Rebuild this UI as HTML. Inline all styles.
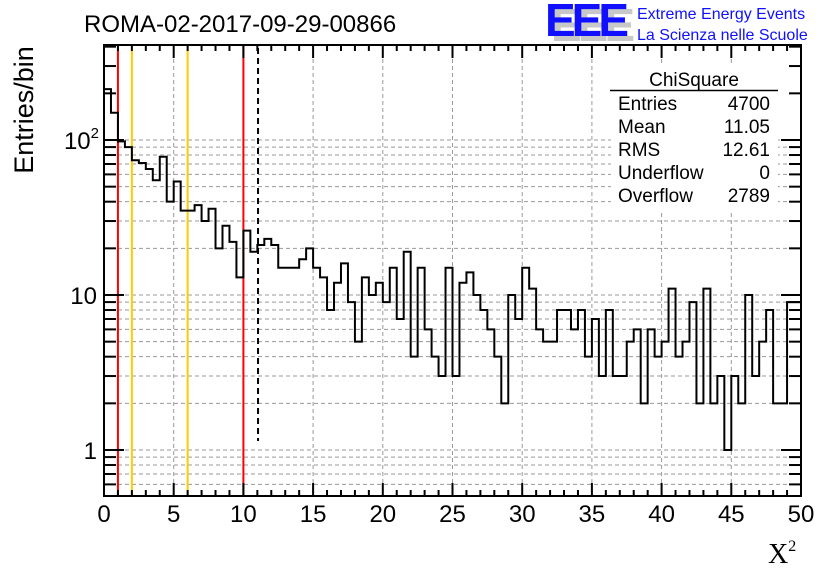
<!DOCTYPE html>
<html><head><meta charset="utf-8"><style>
html,body{margin:0;padding:0;background:#fff;}
svg{display:block;font-family:"Liberation Sans",sans-serif;}
</style></head><body>
<svg id="c" width="836" height="572" viewBox="0 0 836 572">
<rect width="836" height="572" fill="#fff"/>
<g id="grid"></g>
<g id="lines"></g>
<path id="hist" fill="none" stroke="#000" stroke-width="2"/>
<g id="axes"></g>
<text x="84" y="32" font-size="24">ROMA-02-2017-09-29-00866</text>
<g>
<text x="551" y="41" font-size="46" font-weight="bold" fill="#c8c8c8" letter-spacing="-4" textLength="80" lengthAdjust="spacingAndGlyphs">EEE</text>
<text x="545" y="36" font-size="46" font-weight="bold" fill="#1010ff" letter-spacing="-4" textLength="80" lengthAdjust="spacingAndGlyphs">EEE</text>
<text x="637" y="19" font-size="16" fill="#1010ff">Extreme Energy Events</text>
<text x="637" y="40" font-size="16" fill="#1010ff">La Scienza nelle Scuole</text>
</g>
<text transform="translate(33,110) rotate(-90)" font-size="27" text-anchor="middle">Entries/bin</text>
<text x="768" y="563" font-family="Liberation Serif,serif" font-size="28">X<tspan font-size="16" dy="-12">2</tspan></text>
<g>
<rect x="611" y="66" width="167" height="144" fill="#fff"/>
<text x="694" y="86" font-size="19" text-anchor="middle">ChiSquare</text>
<line x1="610" y1="90.5" x2="778" y2="90.5" stroke="#000" stroke-width="1.5"/>
<g font-size="19" id="stats"></g>
</g>
</svg>
<script>
const binValues=[213,150,98,90,74,71,65,55,78,40,54,35,35,38,30,36,20,28,22,13,26,19,21,23,21,15,15,15,17,20,15,13,8,12,16,9,5,13,10,12,9,15,7,19,4,15,6,4,3,15,3,12,14,10,8,6,4,2,10,7,15,11,6,5,5,8,8,6,8,4,7,3,8,3,3,5,6,2,6,4,5,11,4,5,9,2,11,2,3,1,3,2,10,3,5,8,2,2,9,9];
const xTickLabels=["0","5","10","15","20","25","30","35","40","45","50"];
const yMajor=[1,10,100];
const cutLines=[{x:1,c:"#ff0000"},{x:2,c:"#ffcc00"},{x:6,c:"#ffcc00"},{x:10,c:"#ff0000"}];
const meanValue=11.05;
const statLabels=["Entries","Mean","RMS","Underflow","Overflow"];
const statValues=["4700","11.05","12.61","0","2789"];
const NS="http://www.w3.org/2000/svg";
const L=104,R=801,T=45,B=496,X0=0,X1=50,binW=0.5;
const yTopLog=2+95/155, yBotLog=-46/155;
const xs=v=>L+(v-X0)/(X1-X0)*(R-L);
const ys=v=>B-(Math.log10(v)-yBotLog)/(yTopLog-yBotLog)*(B-T);
function mk(tag,at,parent){const e=document.createElementNS(NS,tag);for(const k in at)e.setAttribute(k,at[k]);parent.appendChild(e);return e;}
const grid=document.getElementById('grid'),axes=document.getElementById('axes'),lines=document.getElementById('lines');
xTickLabels.forEach(t=>{const x=xs(+t);if(x>L&&x<R){const g=mk('line',{x1:x,y1:T,x2:x,y2:B,stroke:'#999','stroke-dasharray':'4,3','stroke-width':1},grid);

}});
for(let d=-1;d<=2;d++)for(let m=1;m<=9;m++){const v=m*Math.pow(10,d);const y=ys(v);if(y<T||y>B)continue;
const isMaj=m==1;
if(!(d==2&&m>1)){const g=mk('line',{x1:L,y1:y,x2:R,y2:y,stroke:'#999','stroke-dasharray':'4,3','stroke-width':1},grid);

}
const tl=isMaj?20:12;
const a=mk('line',{x1:L,y1:y,x2:L+tl,y2:y,stroke:'#000','stroke-width':2},axes);


const b=mk('line',{x1:R,y1:y,x2:R-tl,y2:y,stroke:'#000','stroke-width':2},axes);

}
cutLines.forEach(c=>{const l=mk('line',{x1:xs(c.x),y1:T,x2:xs(c.x),y2:B,stroke:c.c,'stroke-width':2},lines);

});
const ml=mk('line',{x1:xs(meanValue),y1:T+3,x2:xs(meanValue),y2:B-55,stroke:'#000','stroke-width':2,'stroke-dasharray':'6,4'},lines);


let d='M'+L+','+B;
binValues.forEach((v,i)=>{const y=ys(Math.max(v,0.3));d+=' L'+xs(i*binW)+','+y+' L'+xs((i+1)*binW)+','+y;});
d+=' L'+R+','+B;
document.getElementById('hist').setAttribute('d',d);
const fr=mk('rect',{x:L,y:T,width:R-L,height:B-T,fill:'none',stroke:'#000','stroke-width':2},axes);


for(let v=X0;v<=X1;v++){const x=xs(v);const tl=v%5==0?13:6;
const a=mk('line',{x1:x,y1:B,x2:x,y2:B-tl,stroke:'#000','stroke-width':2},axes);


const b=mk('line',{x1:x,y1:T,x2:x,y2:T+tl,stroke:'#000','stroke-width':2},axes);

}
xTickLabels.forEach(t=>{const e=mk('text',{x:xs(+t),y:522,'font-size':24,'text-anchor':'middle'},axes);e.textContent=t;

});
yMajor.forEach(v=>{const y=ys(v);const e=mk('text',{x:97,y:y+9,'font-size':24,'text-anchor':'end'},axes);


if(v==100){e.textContent='10';const ts=mk('tspan',{'font-size':15,dy:-11},e);ts.textContent='2';e.setAttribute('x',99);}else e.textContent=String(v);});
const st=document.getElementById('stats');
statLabels.forEach((s,i)=>{const y=110+i*23;const a=mk('text',{x:618,y:y},st);a.textContent=s;


const b=mk('text',{x:770,y:y,'text-anchor':'end'},st);b.textContent=statValues[i];

});
</script>
</body></html>
